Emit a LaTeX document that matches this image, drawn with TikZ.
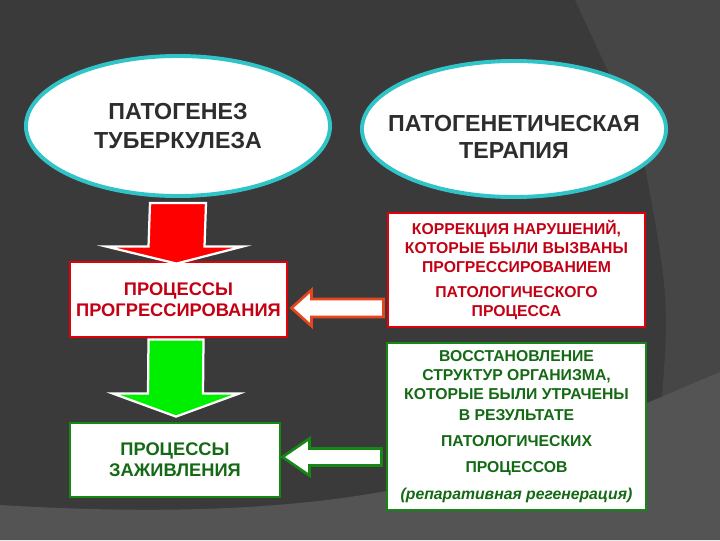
\documentclass[tikz,border=0pt]{standalone}
\usepackage{fontspec}
\setmainfont{Liberation Sans}
\usepackage{tikz}
\usetikzlibrary{shapes.geometric,calc}
\definecolor{bgdark}{RGB}{58,58,58}
\definecolor{bgmid}{RGB}{70,70,70}
\definecolor{bglight}{RGB}{84,84,84}
\definecolor{ringteal}{RGB}{48,196,200}
\definecolor{inkgray}{RGB}{45,45,45}
\definecolor{boxred}{RGB}{225,0,10}
\definecolor{textred}{RGB}{195,0,20}
\definecolor{arrred}{RGB}{255,0,0}
\definecolor{edgeorange}{RGB}{230,70,30}
\definecolor{boxgreen}{RGB}{20,135,20}
\definecolor{textgreen}{RGB}{20,105,20}
\definecolor{arrgreen}{RGB}{0,238,0}

\begin{document}
\begin{tikzpicture}[
    x=0.025cm, y=-0.025cm,
    ovalnode/.style={ellipse, draw=ringteal, fill=white, line width=2.8pt,
        inner sep=0pt, align=center, text=inkgray,
        font=\bfseries\fontsize{16.5}{21}\selectfont},
    ovaltext/.style={align=center, text=inkgray, inner sep=0pt,
        font=\bfseries\fontsize{16.5}{19.5}\selectfont},
    redbox/.style={rectangle, draw=boxred, fill=white, line width=2pt,
        inner sep=2pt, align=center, text=textred},
    greenbox/.style={rectangle, draw=boxgreen, fill=white, line width=2pt,
        inner sep=2pt, align=center, text=textgreen},
    leftfont/.style={font=\bfseries\fontsize{13}{15}\selectfont},
    rightfont/.style={font=\bfseries\fontsize{11.2}{13.6}\selectfont},
    redarr/.style={fill=arrred, draw=white, line width=1.6pt, line join=miter},
    greenarr/.style={fill=arrgreen, draw=white, line width=1.6pt, line join=miter},
    redback/.style={fill=white, draw=edgeorange, line width=1.9pt, line join=miter},
    greenback/.style={fill=white, draw=boxgreen, line width=1.9pt, line join=miter},
]

% background
\fill[bgdark] (0,0) rectangle (720,540);
\fill[bgmid] (575,0) -- (720,0) -- (720,380) -- (660,420) .. controls (670,300) .. (640,140) -- cycle;
\fill[bglight] (0,505) .. controls (250,520) and (420,500) .. (560,440) -- (720,372) -- (720,540) -- (0,540) -- cycle;

% ovals
\node[ovalnode, minimum width=7.6cm, minimum height=3.5cm] (patho) at (178,126) {ПАТОГЕНЕЗ\\ТУБЕРКУЛЕЗА};
\node[ovalnode, minimum width=7.6cm, minimum height=3.4cm] (therapy) at (514,129) {};
\node[ovaltext] (therapytext) at ($(therapy.center)+(0,8)$) {ПАТОГЕНЕТИЧЕСКАЯ\\ТЕРАПИЯ};

% boxes left
\node[redbox, leftfont, minimum width=5.425cm, minimum height=1.875cm] (progr) at (178.5,299.5)
    {ПРОЦЕССЫ\\ПРОГРЕССИРОВАНИЯ};
\node[greenbox, leftfont, minimum width=5.25cm, minimum height=1.85cm] (heal) at (175,460)
    {ПРОЦЕССЫ\\ЗАЖИВЛЕНИЯ};

% boxes right
\node[redbox, rightfont, minimum width=6.425cm, minimum height=2.85cm] (correct) at (516.5,270)
    {КОРРЕКЦИЯ НАРУШЕНИЙ,\\КОТОРЫЕ БЫЛИ ВЫЗВАНЫ\\ПРОГРЕССИРОВАНИЕМ\\[4pt]ПАТОЛОГИЧЕСКОГО\\ПРОЦЕССА};
\node[greenbox, rightfont, minimum width=6.475cm, minimum height=4.175cm] (restore) at (516.5,426.5)
    {ВОССТАНОВЛЕНИЕ\\СТРУКТУР ОРГАНИЗМА,\\КОТОРЫЕ БЫЛИ УТРАЧЕНЫ\\[1.5pt]В РЕЗУЛЬТАТЕ\\[5pt]ПАТОЛОГИЧЕСКИХ\\[5pt]ПРОЦЕССОВ\\[5.5pt]
     {\itshape (репаративная регенерация)}};

% down arrows
\draw[redarr] ($(patho.south)+(-28,5)$) -- ($(patho.south)+(28,5)$)
    -- ($(progr.north)+(26,-14)$) -- ($(progr.north)+(64,-14)$) -- ($(progr.north)+(-2,3)$)
    -- ($(progr.north)+(-72,-14)$) -- ($(progr.north)+(-30,-14)$) -- cycle;
\draw[greenarr] ($(progr.south)+(-30,1)$) -- ($(progr.south)+(25,1)$)
    -- ($(heal.north)+(28,-28)$) -- ($(heal.north)+(64,-28)$) -- ($(heal.north)+(1,-5)$)
    -- ($(heal.north)+(-62,-28)$) -- ($(heal.north)+(-27,-28)$) -- cycle;

% left arrows
\draw[redback] ($(progr.east)+(3,8.5)$) -- ++(20,-18) -- ++(0,9)
    -- ($(correct.west |- progr.east)+(-3,-0.5)$) -- ++(0,18)
    -- ($(progr.east)+(23,17.5)$) -- ++(0,9) -- cycle;
\draw[greenback] ($(heal.east)+(1,-3)$) -- ++(27,-18.5) -- ++(0,10)
    -- ($(restore.west |- heal.east)+(-4,-11.5)$) -- ++(0,17)
    -- ($(heal.east)+(28,5.5)$) -- ++(0,10) -- cycle;

\end{tikzpicture}
\end{document}
